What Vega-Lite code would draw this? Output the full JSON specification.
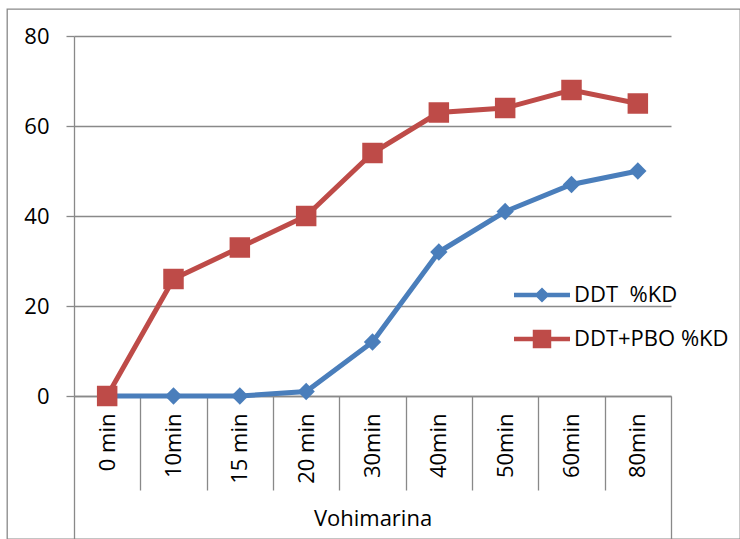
{
  "$schema": "https://vega.github.io/schema/vega-lite/v6.json",
  "width": 733,
  "height": 530,
  "padding": {"left": 7, "top": 9, "right": 0, "bottom": 0},
  "autosize": {"type": "none"},
  "background": "white",
  "config": {"view": {"stroke": "#898989", "strokeWidth": 1.3}, "font": "Open Sans"},
  "data": {
    "values": [
      {"time": "0 min", "series": "DDT\u00a0 %KD", "kd": 0},
      {"time": "10min", "series": "DDT\u00a0 %KD", "kd": 0},
      {"time": "15 min", "series": "DDT\u00a0 %KD", "kd": 0},
      {"time": "20 min", "series": "DDT\u00a0 %KD", "kd": 1},
      {"time": "30min", "series": "DDT\u00a0 %KD", "kd": 12},
      {"time": "40min", "series": "DDT\u00a0 %KD", "kd": 32},
      {"time": "50min", "series": "DDT\u00a0 %KD", "kd": 41},
      {"time": "60min", "series": "DDT\u00a0 %KD", "kd": 47},
      {"time": "80min", "series": "DDT\u00a0 %KD", "kd": 50},
      {"time": "0 min", "series": "DDT+PBO %KD", "kd": 0},
      {"time": "10min", "series": "DDT+PBO %KD", "kd": 26},
      {"time": "15 min", "series": "DDT+PBO %KD", "kd": 33},
      {"time": "20 min", "series": "DDT+PBO %KD", "kd": 40},
      {"time": "30min", "series": "DDT+PBO %KD", "kd": 54},
      {"time": "40min", "series": "DDT+PBO %KD", "kd": 63},
      {"time": "50min", "series": "DDT+PBO %KD", "kd": 64},
      {"time": "60min", "series": "DDT+PBO %KD", "kd": 68},
      {"time": "80min", "series": "DDT+PBO %KD", "kd": 65}
    ]
  },
  "encoding": {
    "x": {
      "field": "time",
      "type": "nominal",
      "sort": null,
      "bandPosition": 0.5,
      "scale": {"type": "band", "paddingInner": 0, "paddingOuter": 0, "range": [67, 664]},
      "axis": {
        "offset": -143,
        "tickBand": "extent",
        "tickColor": "#898989",
        "tickWidth": 1.3,
        "tickSize": {"condition": {"test": "!(datum.index >= 0 && datum.index < 1)", "value": 150}, "value": 94},
        "domainColor": "#898989",
        "domainWidth": 1.3,
        "labelAngle": -90,
        "labelAlign": "right",
        "labelBaseline": "middle",
        "labelFontSize": 22,
        "labelColor": "#000000",
        "labelPadding": {"condition": {"test": "!(datum.index >= 0 && datum.index < 1)", "value": -133}, "value": -77},
        "title": "Vohimarina",
        "titleFontSize": 22,
        "titleFontWeight": "normal",
        "titleColor": "#000000",
        "titleBaseline": "top",
        "titleY": 112
      }
    },
    "y": {
      "field": "kd",
      "type": "quantitative",
      "scale": {"domain": [0, 80], "range": [387, 27]},
      "axis": {
        "offset": -67,
        "values": [0, 20, 40, 60, 80],
        "grid": true,
        "gridColor": "#898989",
        "gridWidth": 1.3,
        "domainColor": "#898989",
        "domainWidth": 1.3,
        "tickColor": "#898989",
        "tickWidth": 1.3,
        "tickSize": 8,
        "labelFontSize": 22,
        "labelColor": "#000000",
        "labelPadding": 17,
        "title": null
      }
    },
    "color": {
      "field": "series",
      "type": "nominal",
      "scale": {"domain": ["DDT\u00a0 %KD", "DDT+PBO %KD"], "range": ["#4A7EBB", "#BE4B48"]},
      "legend": {
        "title": null,
        "orient": "none",
        "legendX": 507,
        "legendY": 258,
        "padding": 0,
        "labelFontSize": 22,
        "labelColor": "#000000",
        "labelOffset": 4,
        "rowPadding": 5,
        "symbolSize": 3136,
        "encode": {
          "symbols": {
            "update": {
              "shape": {"signal": "datum.label === 'DDT+PBO %KD' ? 'M-1,-0.08H-0.33V-0.33H0.33V-0.08H1V0.08H0.33V0.33H-0.33V0.08H-1Z' : 'M-1,-0.08H-0.19L0,-0.27L0.19,-0.08H1V0.08H0.19L0,0.27L-0.19,0.08H-1Z'"},
              "fill": {"scale": "color", "field": "value"},
              "strokeWidth": {"value": 0},
              "size": {"value": 3136}
            }
          }
        }
      }
    }
  },
  "layer": [
    {"mark": {"type": "line", "strokeWidth": 5}},
    {
      "transform": [{"filter": "datum.series !== 'DDT+PBO %KD'"}],
      "mark": {"type": "point", "shape": "diamond", "filled": true, "size": 300, "opacity": 1}
    },
    {
      "transform": [{"filter": "datum.series === 'DDT+PBO %KD'"}],
      "mark": {"type": "point", "shape": "square", "filled": true, "size": 420, "opacity": 1}
    }
  ]
}
